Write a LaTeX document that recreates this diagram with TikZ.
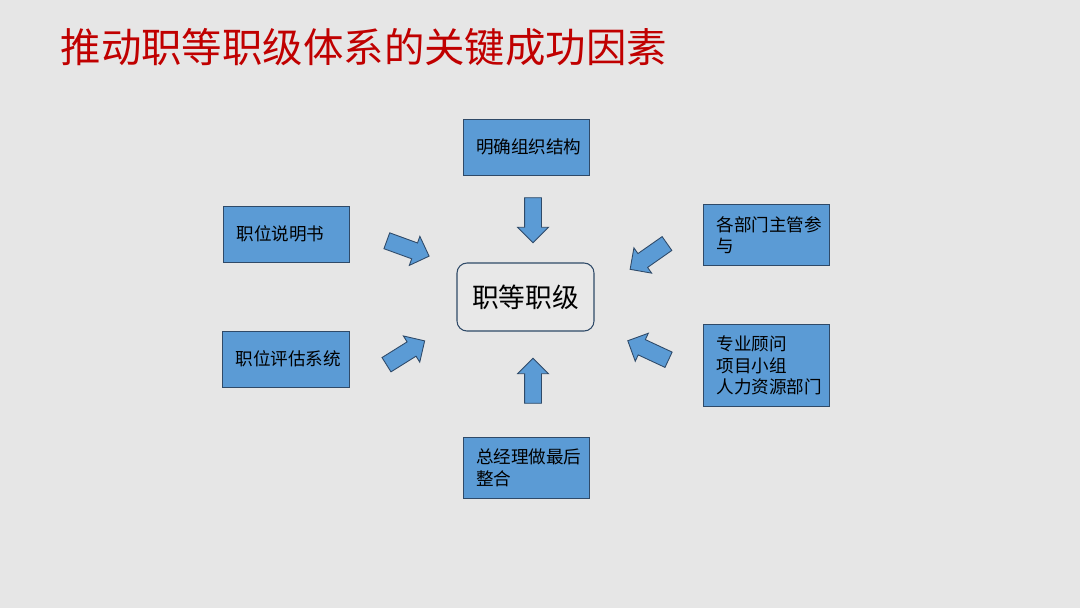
\documentclass[tikz,border=0pt]{standalone}
\usepackage{fontspec}
\setmainfont{Noto Sans CJK SC}
\usetikzlibrary{shapes.arrows}
\definecolor{bg}{HTML}{E6E6E6}
\definecolor{boxblue}{HTML}{5B9BD5}
\definecolor{edge}{HTML}{2F4A68}
\definecolor{titlered}{HTML}{C00000}
\tikzset{
  bluebox/.style={draw=edge,line width=0.25pt,fill=boxblue,minimum width=1.26cm,minimum height=0.56cm,
    text width=1.0cm,inner xsep=0.13cm,align=left,font=\fontsize{5}{6.1}\selectfont},
  blockarrow/.style={single arrow,draw=edge,line width=0.25pt,fill=boxblue,minimum height=0.45cm,
    inner ysep=0.08cm,inner xsep=0pt,single arrow head extend=0.07cm,single arrow head indent=0pt}
}
\begin{document}
\begin{tikzpicture}
\fill[bg] (0,0) rectangle (10.8,-6.08);
\useasboundingbox (0,0) rectangle (10.8,-6.08);
\node[anchor=west,text=titlered,font=\fontsize{11.5}{13}\selectfont,inner sep=0pt] (title) at (0.6,-0.47) {推动职等职级体系的关键成功因素};
\node[draw=edge,line width=0.3pt,fill=bg!90!white,rounded corners=0.1cm,minimum width=1.37cm,minimum height=0.68cm,font=\fontsize{7.6}{9}\selectfont] (c) at (5.255,-2.97) {职等职级};
\node[bluebox] (b1) at (5.26,-1.47) {明确组织结构};
\node[bluebox] (b2) at (2.865,-2.34) {职位说明书};
\node[bluebox] (b3) at (7.665,-2.35) {各部门主管参\\与};
\node[bluebox,minimum width=1.27cm] (b4) at (2.855,-3.59) {职位评估系统};
\node[bluebox,minimum height=0.67cm] (b5) at (7.665,-3.655) {专业顾问\\项目小组\\人力资源部门};
\node[bluebox] (b6) at (5.26,-4.68) {总经理做最后\\整合};
\node[blockarrow,rotate=-90] (a1) at (5.33,-2.16) {};
\node[blockarrow,rotate=90] (a6) at (5.33,-3.85) {};
\node[blockarrow,rotate=-20] (a2) at (4.04,-2.47) {};
\node[blockarrow,rotate=32] (a4) at (4.02,-3.55) {};
\node[blockarrow,rotate=215] (a3) at (6.52,-2.54) {};
\node[blockarrow,rotate=155] (a5) at (6.52,-3.52) {};
\end{tikzpicture}
\end{document}
